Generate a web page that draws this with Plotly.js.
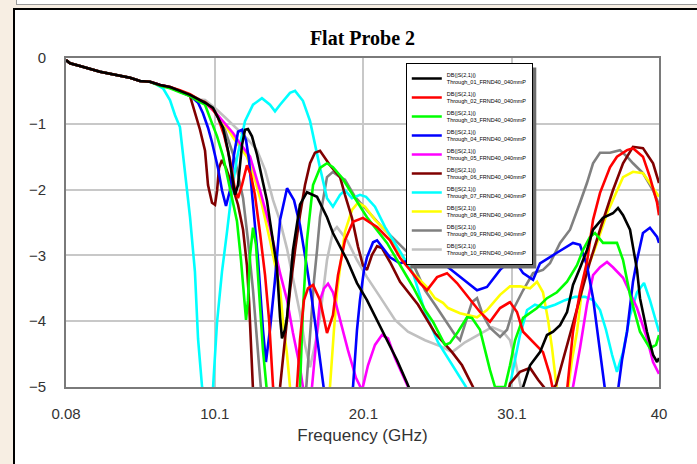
<!DOCTYPE html>
<html>
<head>
<meta charset="utf-8">
<script src="https://cdn.plot.ly/plotly-3.0.1.min.js"></script>
<style>
  html, body { margin:0; padding:0; width:697px; height:464px; overflow:hidden; background:#F7EEE3; }
  #topstrip { position:absolute; left:16px; top:0; width:700px; height:4px; background:#fff; border-left:1px solid #9a9a9a; border-bottom:1px solid #9a9a9a; }
  #frame { position:absolute; left:13px; top:8px; width:700px; height:470px; background:#fff; border-left:2px solid #000; border-top:2px solid #000; }
  #chart { position:absolute; left:0; top:0; width:697px; height:464px; }
</style>
</head>
<body>
<div id="topstrip"></div>
<div id="frame"></div>
<div id="chart"></div>
<script>
// Shared low-frequency part (all probes overlap)
const commonFreq = [0.08,0.35,1.02,1.70,2.37,3.04,3.72,4.39,5.06,5.73];
const commonDb   = [-0.03,-0.08,-0.12,-0.17,-0.21,-0.24,-0.27,-0.30,-0.35,-0.36];

const f01 = [6.41,7.08,7.75,8.43,9.10,9.44,9.98,10.65,10.99,11.25,11.46,11.66,11.93,12.13,12.33,12.60,12.94,13.27,13.61,13.81,14.28,14.49,14.62,14.82,14.96,15.36,15.83,16.30,16.98,17.65,18.05,19.00,19.67,20.34,21.02,21.69,22.36,23.04,23.37,27.0,30.5,30.85,31.32,31.99,32.46,32.87,33.34,33.81,34.21,34.68,35.15,35.56,36.23,36.90,37.24,37.58,38.05,38.25,38.52,38.72,39.19,39.60,39.87,40.0];
const d01 = [-0.41,-0.44,-0.50,-0.56,-0.64,-0.68,-0.76,-1.06,-1.41,-1.78,-2.08,-1.93,-1.32,-1.09,-1.08,-1.19,-1.47,-1.82,-2.17,-2.48,-3.18,-3.94,-4.26,-4.13,-3.94,-2.92,-2.23,-2.04,-2.11,-2.42,-2.66,-3.07,-3.42,-3.68,-3.98,-4.29,-4.59,-4.94,-5.12,-5.6,-5.6,-5.00,-4.67,-4.47,-4.21,-4.16,-4.06,-3.86,-3.45,-3.19,-2.92,-2.61,-2.43,-2.36,-2.28,-2.39,-2.61,-2.87,-3.22,-3.65,-4.16,-4.51,-4.62,-4.56];

const f02 = [6.41,7.08,7.75,8.43,9.10,9.44,9.91,10.31,10.72,11.12,11.46,11.66,11.93,12.26,12.53,12.80,13.14,13.48,13.75,14.02,14.22,15.43,15.63,15.83,16.10,16.37,16.71,17.18,17.65,18.05,18.39,18.86,19.40,20.07,21.02,21.89,22.57,23.24,23.91,24.38,25.06,25.73,26.40,27.48,27.95,28.62,29.30,29.97,30.44,30.85,31.52,32.19,32.66,32.87,33.81,34.21,34.68,35.15,35.56,36.03,36.70,37.17,37.85,38.25,38.92,39.39,39.87,40.0];
const d02 = [-0.41,-0.44,-0.49,-0.55,-0.64,-0.67,-0.76,-0.90,-1.17,-1.55,-2.01,-2.13,-1.93,-1.63,-1.78,-2.08,-2.66,-3.30,-3.98,-5.00,-5.3,-5.3,-5.00,-4.29,-3.68,-3.50,-3.45,-3.68,-4.18,-3.91,-3.30,-2.77,-2.49,-2.43,-2.57,-2.77,-3.04,-3.22,-3.42,-3.53,-3.33,-3.27,-3.42,-3.72,-3.86,-4.01,-3.80,-3.71,-3.86,-4.16,-4.32,-4.47,-4.82,-5.05,-5.05,-4.16,-3.56,-3.10,-2.46,-2.05,-1.66,-1.50,-1.40,-1.37,-1.50,-1.81,-2.20,-2.39];

const f03 = [6.41,7.08,7.75,8.43,9.10,9.44,9.77,10.25,10.65,11.12,11.59,11.86,12.06,12.20,12.33,12.47,12.67,12.87,13.07,13.34,13.61,14.49,15.70,15.83,16.03,16.30,16.71,17.18,17.65,18.05,18.66,19.20,20.34,21.69,22.57,23.44,24.25,24.79,25.59,25.93,26.47,27.08,27.41,27.95,28.29,28.62,28.96,29.63,29.97,30.31,30.85,31.79,32.46,33.13,33.81,34.48,34.88,35.35,35.69,36.23,37.17,37.58,38.05,38.72,39.39,39.80,40.0];
const d03 = [-0.42,-0.46,-0.52,-0.58,-0.67,-0.71,-0.91,-1.19,-1.49,-1.98,-2.48,-3.07,-3.68,-3.98,-3.68,-2.99,-2.58,-2.84,-3.53,-4.44,-5.08,-5.3,-5.3,-5.00,-3.83,-2.77,-1.93,-1.67,-1.60,-1.66,-1.82,-2.01,-2.42,-2.81,-3.15,-3.48,-3.83,-4.01,-4.36,-4.33,-4.16,-3.94,-3.95,-4.13,-4.44,-4.74,-5.00,-5.00,-4.67,-4.29,-3.95,-3.80,-3.65,-3.56,-3.40,-3.15,-2.92,-2.72,-2.66,-2.81,-2.81,-3.07,-3.60,-4.16,-4.41,-4.36,-4.21];

const f04 = [6.41,7.08,7.75,8.43,8.97,9.30,9.64,9.91,10.31,10.58,10.85,11.12,11.39,11.66,11.93,12.20,12.40,12.60,13.01,13.34,13.54,13.81,14.15,14.49,14.96,15.43,15.83,16.24,16.64,17.05,17.45,17.85,19.20,19.40,19.67,19.87,20.14,20.34,20.75,21.02,21.35,21.89,22.57,23.24,24.38,25.46,26.60,27.75,28.42,29.30,30.17,30.85,31.52,31.99,33.13,34.21,34.68,35.15,35.56,36.03,36.37,36.84,37.24,37.51,37.85,38.25,38.52,38.92,39.39,39.87,40.0];
const d04 = [-0.41,-0.45,-0.51,-0.57,-0.68,-0.84,-1.06,-1.28,-1.67,-2.01,-2.25,-2.01,-1.47,-1.12,-1.09,-1.25,-1.55,-2.02,-3.07,-4.13,-4.62,-4.13,-3.37,-2.46,-1.98,-2.16,-2.54,-3.10,-3.68,-4.36,-5.05,-5.3,-5.3,-5.00,-4.13,-3.68,-3.22,-3.03,-2.80,-2.77,-2.87,-3.03,-3.12,-3.07,-2.99,-3.12,-3.33,-3.53,-3.48,-3.22,-3.04,-3.27,-3.37,-3.12,-2.96,-2.81,-2.84,-3.15,-3.65,-4.41,-5.05,-5.3,-5.05,-4.59,-4.16,-3.40,-3.07,-2.66,-2.58,-2.72,-2.81];

const f05 = [6.41,7.08,7.75,8.43,9.10,9.44,10.11,10.78,11.32,11.86,12.47,13.14,13.81,14.49,14.96,15.36,15.83,16.03,16.30,16.64,16.91,17.18,17.45,17.72,18.05,18.53,19.06,19.60,20.01,20.41,20.88,21.35,21.76,22.23,22.83,23.24,23.91,33.67,34.21,34.68,35.15,35.56,36.03,36.50,36.90,37.58,38.05,38.52,39.19,39.60,40.0];
const d05 = [-0.41,-0.44,-0.50,-0.56,-0.65,-0.68,-0.82,-1.00,-1.14,-1.32,-1.50,-2.01,-2.57,-3.27,-3.68,-4.18,-4.70,-5.00,-5.2,-5.00,-4.29,-3.68,-3.50,-3.43,-3.56,-3.98,-4.44,-4.86,-5.05,-4.67,-4.36,-4.21,-4.26,-4.56,-4.86,-5.08,-5.4,-5.4,-5.00,-4.41,-3.75,-3.30,-3.18,-3.10,-3.18,-3.34,-3.56,-3.80,-4.26,-4.62,-4.80];

const f06 = [6.41,7.08,7.75,8.43,8.63,9.10,9.44,9.64,9.91,10.11,10.25,10.38,10.58,10.85,11.25,11.66,12.00,12.26,12.40,12.53,12.67,13.01,14.22,14.49,14.82,15.16,15.50,15.83,16.17,16.51,16.84,17.18,17.85,18.53,18.86,19.33,19.74,20.07,20.34,20.68,21.02,21.35,21.89,22.57,23.78,24.92,26.07,26.74,27.48,27.95,29.63,29.97,30.64,31.32,31.86,32.53,33.07,33.74,34.28,34.82,35.35,36.03,36.90,37.58,38.25,38.92,39.60,40.0];
const d06 = [-0.41,-0.45,-0.51,-0.58,-0.73,-1.09,-1.41,-1.93,-2.20,-2.23,-2.02,-1.67,-1.55,-1.67,-1.93,-2.23,-2.61,-3.15,-3.68,-4.29,-5.05,-5.3,-5.3,-5.00,-4.29,-3.53,-2.92,-2.39,-1.93,-1.60,-1.44,-1.41,-1.63,-1.81,-2.08,-2.43,-2.87,-3.15,-3.22,-2.99,-2.86,-2.89,-3.10,-3.40,-3.75,-4.18,-4.47,-4.67,-5.00,-5.3,-5.3,-4.95,-4.77,-4.71,-4.89,-5.08,-4.97,-4.44,-3.98,-3.53,-3.10,-2.61,-2.01,-1.60,-1.35,-1.37,-1.60,-1.90];

const f07 = [6.14,6.61,7.08,7.42,7.75,8.09,8.43,8.76,8.97,9.24,9.50,9.71,9.98,10.25,10.58,10.92,11.25,11.59,12.13,12.67,13.27,13.81,14.15,14.49,15.16,15.50,16.03,16.51,16.84,17.18,17.65,18.05,18.53,18.86,19.33,19.87,20.28,20.88,21.56,22.23,22.70,23.44,24.25,25.12,26.07,27.01,27.28,29.63,29.97,30.31,30.64,31.12,31.65,32.33,33.00,33.67,34.35,35.02,35.56,36.03,36.43,36.84,37.17,37.58,38.05,38.52,38.99,39.39,39.80,40.0];
const d07 = [-0.40,-0.46,-0.64,-0.87,-1.05,-1.75,-2.42,-3.25,-4.27,-5.00,-5.3,-5.3,-5.00,-4.01,-3.25,-2.64,-2.01,-1.52,-0.96,-0.71,-0.61,-0.71,-0.81,-0.71,-0.53,-0.50,-0.65,-0.96,-1.32,-1.67,-2.13,-2.26,-2.08,-2.01,-2.13,-2.08,-2.11,-2.26,-2.57,-2.81,-2.99,-3.27,-3.86,-4.32,-4.67,-5.00,-5.3,-5.3,-4.97,-4.59,-4.21,-3.83,-3.75,-3.80,-3.75,-3.68,-3.63,-3.63,-3.68,-3.83,-4.13,-4.51,-4.77,-4.47,-3.91,-3.56,-3.42,-3.68,-4.01,-4.16];

const f08 = [6.41,7.08,7.75,8.43,9.10,9.44,10.11,10.78,11.46,12.26,12.80,13.27,13.81,14.02,14.28,14.49,14.69,14.96,15.16,15.50,17.52,17.85,18.12,18.32,18.53,18.86,19.33,19.74,20.21,20.88,21.76,22.43,22.90,23.44,24.38,24.92,25.46,25.80,26.60,27.75,28.42,29.30,29.97,30.64,31.32,31.79,32.19,32.53,32.80,33.13,33.67,33.87,34.14,34.48,34.88,35.15,35.35,35.83,36.50,37.17,37.58,38.25,38.92,39.39,39.87,40.0];
const d08 = [-0.41,-0.44,-0.50,-0.56,-0.65,-0.68,-0.82,-1.02,-1.25,-1.50,-1.85,-2.23,-2.77,-2.99,-3.30,-3.51,-4.01,-4.51,-5.00,-5.3,-5.3,-5.00,-4.13,-3.57,-3.18,-2.64,-2.31,-2.20,-2.26,-2.46,-2.66,-2.92,-3.07,-3.27,-3.48,-3.65,-3.72,-3.80,-3.88,-3.94,-3.83,-3.60,-3.47,-3.47,-3.50,-3.40,-3.56,-3.98,-4.41,-5.05,-5.3,-5.05,-4.59,-4.16,-3.40,-3.15,-3.10,-2.81,-2.36,-2.01,-1.81,-1.73,-1.75,-1.90,-2.05,-2.11];

const f09 = [6.41,7.08,7.75,8.43,9.10,9.44,10.11,10.78,11.46,12.00,12.33,12.67,12.94,13.21,13.48,15.97,16.24,16.51,16.78,16.98,17.18,17.65,18.05,18.53,18.86,19.54,20.21,21.35,22.43,23.10,23.57,24.25,24.92,25.59,26.27,26.60,26.94,27.41,27.75,28.15,28.62,29.30,29.77,30.17,30.85,31.52,32.19,32.66,33.34,34.01,34.68,35.15,35.56,36.03,36.70,37.37,37.85,38.25,38.92,39.60,40.0];
const d09 = [-0.41,-0.44,-0.50,-0.56,-0.64,-0.67,-0.81,-1.09,-1.55,-2.13,-2.77,-3.53,-4.29,-5.05,-5.3,-5.3,-5.05,-4.18,-3.37,-2.92,-2.42,-1.81,-1.73,-1.81,-1.85,-2.11,-2.28,-2.57,-2.81,-2.96,-3.19,-3.53,-3.75,-3.98,-4.21,-4.29,-4.06,-3.71,-3.65,-3.91,-4.10,-4.24,-4.13,-3.83,-3.53,-3.27,-3.22,-3.12,-2.81,-2.61,-2.20,-1.90,-1.60,-1.44,-1.44,-1.40,-1.50,-1.60,-1.75,-2.01,-2.23];

const f10 = [6.41,7.08,7.75,8.43,9.10,9.44,10.11,10.78,11.46,12.26,12.94,13.48,14.02,14.49,14.96,15.36,15.83,16.17,16.51,16.84,17.18,17.65,18.05,18.32,19.00,19.67,20.34,21.22,22.23,23.10,24.25,25.39,26.07,26.94,27.82,28.76,29.50,29.97,30.31,30.64,30.98];
const d10 = [-0.41,-0.44,-0.50,-0.56,-0.63,-0.64,-0.76,-0.90,-1.05,-1.22,-1.40,-1.70,-2.16,-2.48,-2.90,-3.37,-3.88,-4.36,-4.70,-4.36,-3.94,-3.07,-2.64,-2.57,-2.77,-3.07,-3.33,-3.63,-3.98,-4.16,-4.29,-4.39,-4.47,-4.32,-4.21,-4.09,-4.16,-4.29,-4.59,-4.97,-5.3];

const seriesNames = ["Through_01_FRND40_040mmP","Through_02_FRND40_040mmP","Through_03_FRND40_040mmP","Through_04_FRND40_040mmP","Through_05_FRND40_040mmP","Through_06_FRND40_040mmP","Through_07_FRND40_040mmP","Through_08_FRND40_040mmP","Through_09_FRND40_040mmP","Through_10_FRND40_040mmP"];
const seriesColors = ["#000000","#FF0000","#00FF00","#0000FF","#FF00FF","#800000","#00FFFF","#FFFF00","#808080","#C0C0C0"];
const xTickVals = [0.08,10.1,20.1,30.1,40];
const xTickText = ["0.08","10.1","20.1","30.1","40"];
const yTickVals = [0,-1,-2,-3,-4,-5];

const freqs = [f01,f02,f03,f04,f05,f06,f07,f08,f09,f10];
const dbs   = [d01,d02,d03,d04,d05,d06,d07,d08,d09,d10];

freqs.forEach((f,i) => { if (f.length !== dbs[i].length) throw new Error("length mismatch series " + (i+1) + ": " + f.length + " vs " + dbs[i].length); });

const traces = [];
for (let i = 9; i >= 0; i--) {
  traces.push({
    type: 'scatter', mode: 'lines',
    x: commonFreq.concat(freqs[i]),
    y: commonDb.concat(dbs[i]),
    name: 'DB(|S(2,1)|)<br>' + seriesNames[i],
    line: { color: seriesColors[i], width: 2.6 },
    hoverinfo: 'skip'
  });
}

const PL = 66, PR = 659, PT = 58, PB = 387;
const layout = {
  width: 697, height: 464,
  margin: { l: PL, r: 697 - PR, t: PT, b: 464 - PB },
  paper_bgcolor: 'rgba(0,0,0,0)',
  plot_bgcolor: '#ffffff',
  title: { text: '<b>Flat Probe 2</b>', font: { family: '"Liberation Serif","Times New Roman",serif', size: 20, color: '#000' }, x: 0.5, xref: 'paper', y: 1 - 38/464, yref: 'container', yanchor: 'middle' },
  showlegend: true,
  legend: {
    x: 0.573, y: 0.985, xanchor: 'left', yanchor: 'top',
    bgcolor: '#ffffff', bordercolor: '#000000', borderwidth: 1,
    font: { family: '"Liberation Sans",Arial,sans-serif', size: 5.5, color: '#000' },
    traceorder: 'reversed', itemwidth: 30, tracegroupgap: 0
  },
  xaxis: {
    range: [0.08, 40], tickmode: 'array', tickvals: xTickVals, ticktext: xTickText,
    showgrid: true, gridcolor: '#C8C8C8', gridwidth: 2, zeroline: false,
    showline: true, mirror: true, linecolor: '#7a7a7a', linewidth: 2,
    ticks: 'outside', ticklen: 12, tickcolor: 'rgba(0,0,0,0)',
    tickfont: { family: '"Liberation Sans",Arial,sans-serif', size: 15, color: '#333' },
    title: { text: 'Frequency (GHz)', font: { family: '"Liberation Sans",Arial,sans-serif', size: 17, color: '#333' }, standoff: 8 },
    automargin: false
  },
  yaxis: {
    range: [-5, 0], tickmode: 'array', tickvals: yTickVals,
    showgrid: true, gridcolor: '#C8C8C8', gridwidth: 2, zeroline: false,
    showline: true, mirror: true, linecolor: '#7a7a7a', linewidth: 2,
    ticks: 'outside', ticklen: 15, tickcolor: 'rgba(0,0,0,0)',
    tickfont: { family: '"Liberation Sans",Arial,sans-serif', size: 15, color: '#333' },
    automargin: false
  }
};

Plotly.newPlot('chart', traces, layout, { staticPlot: true, displayModeBar: false }).then(gd => {
  // drop shadow behind the legend box, sized from the rendered legend
  const bg = gd.querySelector('.legend .bg');
  if (!bg) return;
  const r = bg.getBoundingClientRect();
  const c = gd.getBoundingClientRect();
  const off = 4;
  const toX = px => (px - c.left - PL) / (PR - PL);
  const toY = py => (PB - (py - c.top)) / (PB - PT);
  return Plotly.relayout(gd, { shapes: [{
    type: 'rect', xref: 'paper', yref: 'paper', layer: 'above',
    x0: toX(r.left + off), x1: toX(r.right + off),
    y0: toY(r.bottom + off), y1: toY(r.top + off),
    fillcolor: '#6e6e6e', line: { width: 0 }
  }]});
});
</script>
</body>
</html>
